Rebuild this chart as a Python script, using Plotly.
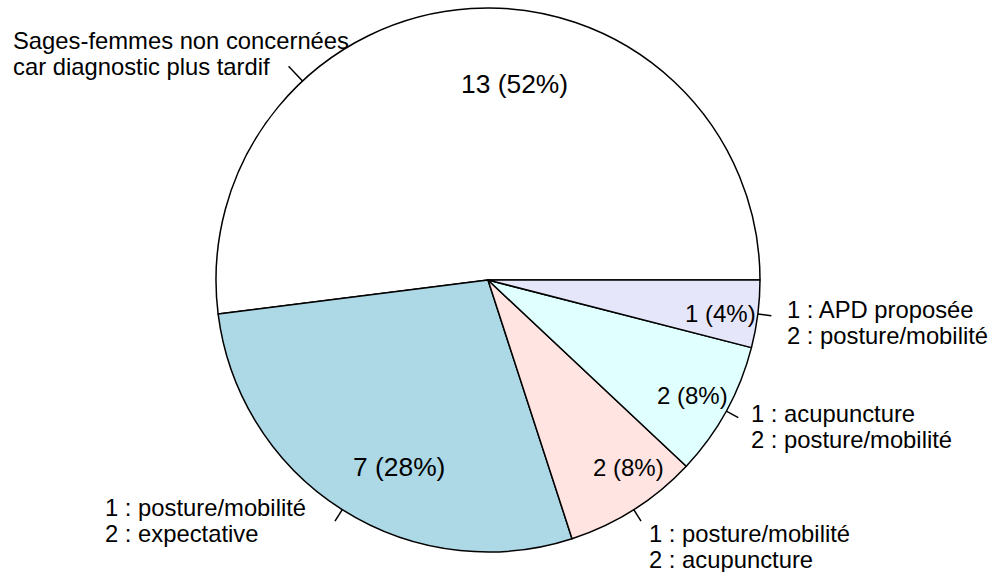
import math
import plotly.graph_objects as go

# ---------------- data ----------------
categories = [
    "Sages-femmes non concernées\ncar diagnostic plus tardif",
    "1 : posture/mobilité\n2 : expectative",
    "1 : posture/mobilité\n2 : acupuncture",
    "1 : acupuncture\n2 : posture/mobilité",
    "1 : APD proposée\n2 : posture/mobilité",
]
counts = [13, 7, 2, 2, 1]
slice_colors = ["#FFFFFF", "#ADD8E6", "#FFE4E1", "#E0FFFF", "#E6E6FA"]

# ---------------- style / layout ----------------
W, H = 994, 572
CX, CY, R = 488, 280, 272
FONT = "Liberation Sans, Arial, Helvetica, sans-serif"
outer_size = 23.8
inner_sizes = [26.4, 26.4, 24, 24, 24]
# inner label placement (radius fraction, angle shift from slice middle)
inner_r = [0.727, 0.761, 0.861, 0.864, 0.865]
inner_shift = [-11.2, 6.9, 4.6, -0.5, -0.9]
# ticks
tick_shift = [39.4, 0, 0, 0, 0]
tick_len = [1.075, 1.05, 1.05, 1.05, 1.05]
# outer label block offsets (px) from the 1.1R anchor
outer_dx = [-272, -223.8, 0, 0, 1.5]
outer_dy = [-9.6, -14.2, 11.8, 0, 2.5]
line_gap = 26

total = sum(counts)
value_labels = [f"{n} ({round(100 * n / total)}%)" for n in counts]

mids = []
acc = 0
for n in counts:
    a0 = 360 * acc / total
    acc += n
    a1 = 360 * acc / total
    mids.append((a0 + a1) / 2)


def to_px(angle_deg, r):
    a = math.radians(angle_deg)
    return CX + r * math.cos(a), CY - r * math.sin(a)


def pxx(x):
    return x / W


def pxy(y):
    return 1 - y / H


# plotly places the first slice clockwise of `rotation` when direction is
# counterclockwise, so shift so that it starts at 3 o'clock going anticlockwise
first_angle = 360 * counts[0] / total

fig = go.Figure(
    go.Pie(
        values=counts,
        labels=[c.replace("\n", " ") for c in categories],
        sort=False,
        direction="counterclockwise",
        rotation=90 - first_angle,
        marker=dict(colors=slice_colors, line=dict(color="black", width=1.5)),
        textinfo="none",
        hoverinfo="skip",
        showlegend=False,
        domain=dict(
            x=[pxx(CX - R), pxx(CX + R)],
            y=[pxy(CY + R), pxy(CY - R)],
        ),
    )
)

annotations = []
shapes = []
for i, n in enumerate(counts):
    # inner value label
    ix, iy = to_px(mids[i] + inner_shift[i], inner_r[i] * R)
    annotations.append(dict(
        x=pxx(ix), y=pxy(iy), xref="paper", yref="paper",
        text=value_labels[i], showarrow=False, xanchor="center", yanchor="middle",
        borderpad=0, font=dict(family=FONT, size=inner_sizes[i], color="black"),
    ))
    # tick
    ta = mids[i] + tick_shift[i]
    x0, y0 = to_px(ta, R)
    x1, y1 = to_px(ta, tick_len[i] * R)
    shapes.append(dict(
        type="line", xref="paper", yref="paper",
        x0=pxx(x0), y0=pxy(y0), x1=pxx(x1), y1=pxy(y1),
        line=dict(color="black", width=1.5),
    ))
    # outer label
    ax, ay = to_px(ta, 1.1 * R)
    left = ax + outer_dx[i]
    base1 = ay + outer_dy[i] - 2.5
    for k, line in enumerate(categories[i].split("\n")):
        base = base1 + k * line_gap
        yc = base - 0.3465 * outer_size
        annotations.append(dict(
            x=pxx(left), y=pxy(yc), xref="paper", yref="paper",
            text=line, showarrow=False, xanchor="left", yanchor="middle",
            borderpad=0, font=dict(family=FONT, size=outer_size, color="black"),
        ))

fig.update_layout(
    width=W, height=H, autosize=False,
    margin=dict(l=0, r=0, t=0, b=0),
    paper_bgcolor="white", plot_bgcolor="white",
    annotations=annotations, shapes=shapes,
    showlegend=False,
)

fig.write_html(
    "out.html",
    config={"displayModeBar": False},
    post_script="document.body.style.margin='0';document.body.style.padding='0';",
)
